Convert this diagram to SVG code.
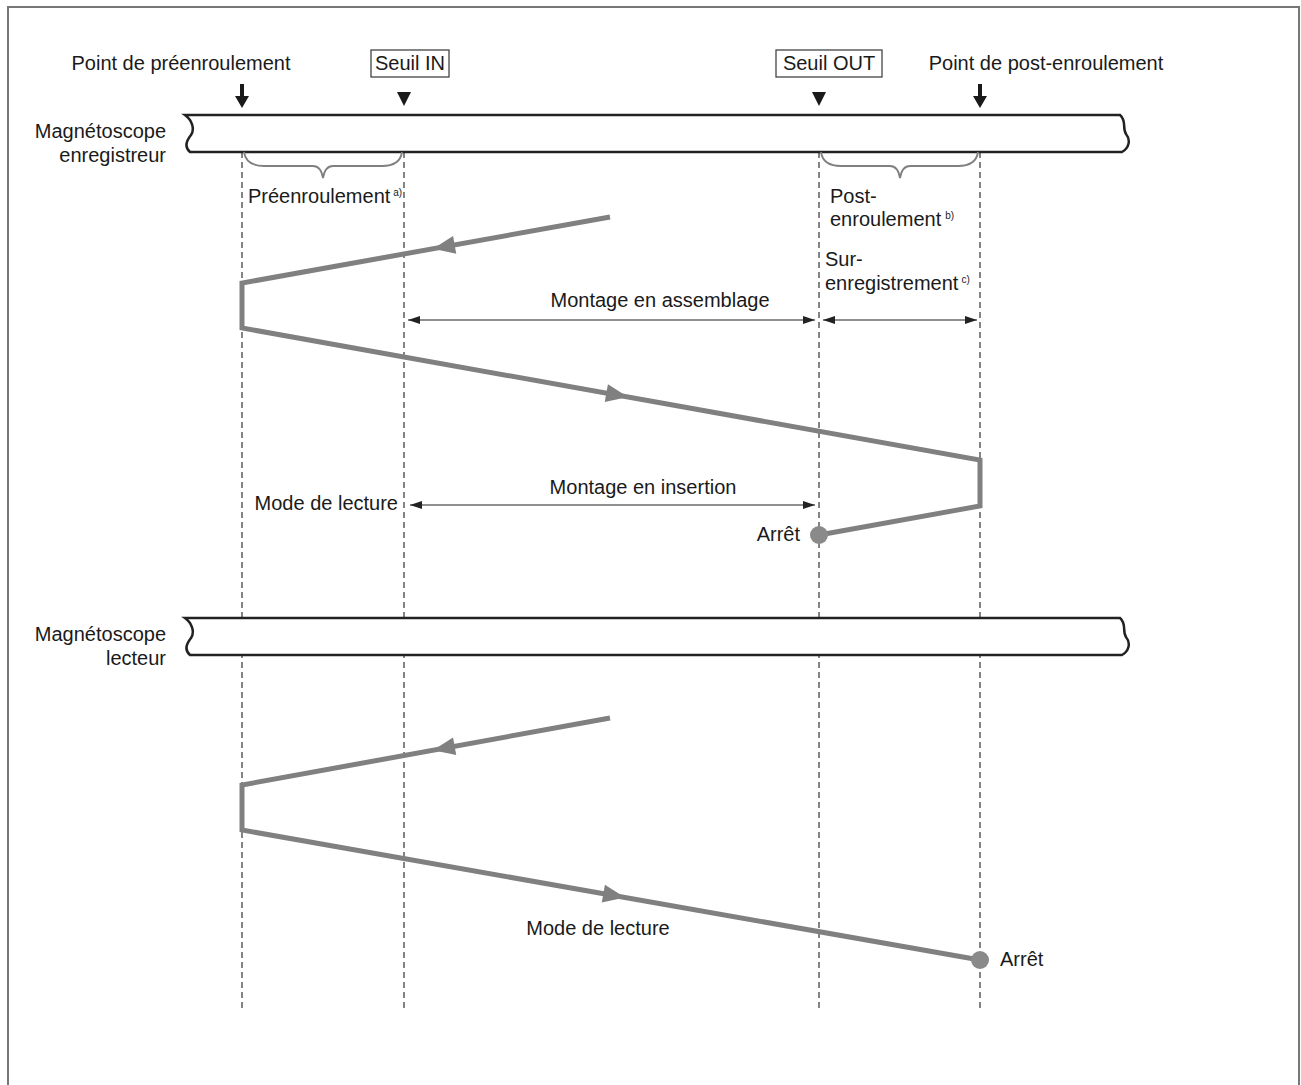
<svg xmlns="http://www.w3.org/2000/svg" width="1301" height="1085" viewBox="0 0 1301 1085">
<defs>
<style>
text{font-family:"Liberation Sans",Arial,sans-serif;font-size:20px;fill:#1a1a1a}
.sup{font-size:10px}
.dash{stroke:#333;stroke-width:1.2;stroke-dasharray:6 4;fill:none}
.tape{fill:#fff;stroke:#222;stroke-width:2.5}
.track{fill:none;stroke:#808080;stroke-width:5;stroke-linejoin:miter}
.brace{fill:none;stroke:#808080;stroke-width:1.8}
.dim{stroke:#222;stroke-width:1.2;fill:none;marker-start:url(#ah);marker-end:url(#ah)}
.head{fill:#808080}
.stop{fill:#8a8a8a}
.lbl{fill:#fff;stroke:#444;stroke-width:1.3}
</style>
<marker id="ah" viewBox="0 0 12 8" refX="12" refY="4" markerWidth="12" markerHeight="8" markerUnits="userSpaceOnUse" orient="auto-start-reverse">
<path d="M0,0 L12,4 L0,8 Z" fill="#222"/>
</marker>
</defs>
<rect width="1301" height="1085" fill="#fff"/>
<path d="M8,1090 L8,7 L1299,7 L1299,1090" fill="none" stroke="#777" stroke-width="2"/>

<g id="guides">
<line class="dash" x1="242" y1="152" x2="242" y2="1010"/>
<line class="dash" x1="404" y1="152" x2="404" y2="1010"/>
<line class="dash" x1="819" y1="152" x2="819" y2="1010"/>
<line class="dash" x1="980" y1="152" x2="980" y2="1010"/>
</g>

<g id="tape-recorder">
<path class="tape" d="M185,115 L1120,115 C1127,121 1122,128 1126,134 C1131,140 1129,148 1122,152 L190,152 C184,147 187,140 191,135 C195,129 192,120 185,115 Z"/>
<text x="166" y="138" text-anchor="end">Magnétoscope</text>
<text x="166" y="162" text-anchor="end">enregistreur</text>
</g>
<g id="tape-player">
<path class="tape" d="M185,618 L1120,618 C1127,624 1122,631 1126,637 C1131,643 1129,651 1122,655 L190,655 C184,650 187,643 191,638 C195,632 192,623 185,618 Z"/>
<text x="166" y="641" text-anchor="end">Magnétoscope</text>
<text x="166" y="665" text-anchor="end">lecteur</text>
</g>

<g id="preroll-point">
<text x="181" y="70" text-anchor="middle">Point de préenroulement</text>
<path d="M240,84 L244,84 L244,96 L249,96 L242,108 L235,96 L240,96 Z" fill="#1a1a1a"/>
</g>
<g id="in-point">
<rect class="lbl" x="371" y="50" width="78" height="27"/>
<text x="410" y="70" text-anchor="middle">Seuil IN</text>
<path d="M397,92 L411,92 L404,106 Z" fill="#1a1a1a"/>
</g>
<g id="out-point">
<rect class="lbl" x="776" y="50" width="106" height="27"/>
<text x="829" y="70" text-anchor="middle">Seuil OUT</text>
<path d="M812,92 L826,92 L819,106 Z" fill="#1a1a1a"/>
</g>
<g id="postroll-point">
<text x="1046" y="70" text-anchor="middle">Point de post-enroulement</text>
<path d="M978,84 L982,84 L982,96 L987,96 L980,108 L973,96 L978,96 Z" fill="#1a1a1a"/>
</g>

<g id="preroll-brace">
<path class="brace" d="M244,152 Q246,166 264,166 L313,166 Q321,166 323,178 Q325,166 333,166 L382,166 Q400,166 402,152"/>
<text x="248" y="203">Préenroulement<tspan class="sup" dx="3" dy="-7">a)</tspan></text>
</g>
<g id="postroll-brace">
<path class="brace" d="M821,152 Q823,166 841,166 L890,166 Q898,166 900,178 Q902,166 910,166 L958,166 Q976,166 978,152"/>
<text x="830" y="203">Post-</text>
<text x="830" y="226">enroulement<tspan class="sup" dx="4" dy="-7">b)</tspan></text>
</g>
<g id="overrecord-label">
<text x="825" y="266">Sur-</text>
<text x="825" y="290">enregistrement<tspan class="sup" dx="3" dy="-7">c)</tspan></text>
</g>

<g id="connectors">
<line class="dim" x1="408" y1="320" x2="815" y2="320"/>
<line class="dim" x1="823" y1="320" x2="977" y2="320"/>
<line class="dim" x1="410" y1="505" x2="815" y2="505"/>
</g>
<text x="660" y="307" text-anchor="middle">Montage en assemblage</text>
<text x="643" y="494" text-anchor="middle">Montage en insertion</text>
<text x="398" y="510" text-anchor="end">Mode de lecture</text>

<g id="track-recorder">
<path class="track" d="M610,217 L242,283 L242,328 L980,460 L980,506 L819,535"/>
<polygon class="head" points="0,0 -22,-9 -22,9" transform="translate(433,248.7) rotate(169.83)"/>
<polygon class="head" points="0,0 -22,-9 -22,9" transform="translate(628,397) rotate(10.14)"/>
<circle class="stop" cx="819" cy="535" r="9"/>
<text x="800" y="541" text-anchor="end">Arrêt</text>
</g>

<g id="track-player">
<path class="track" d="M610,718 L242,785 L242,830 L980,960"/>
<polygon class="head" points="0,0 -22,-9 -22,9" transform="translate(433,750.2) rotate(169.68)"/>
<polygon class="head" points="0,0 -22,-9 -22,9" transform="translate(625,897.5) rotate(9.99)"/>
<circle class="stop" cx="980" cy="960" r="9"/>
<text x="1000" y="966">Arrêt</text>
<text x="598" y="935" text-anchor="middle">Mode de lecture</text>
</g>
</svg>
